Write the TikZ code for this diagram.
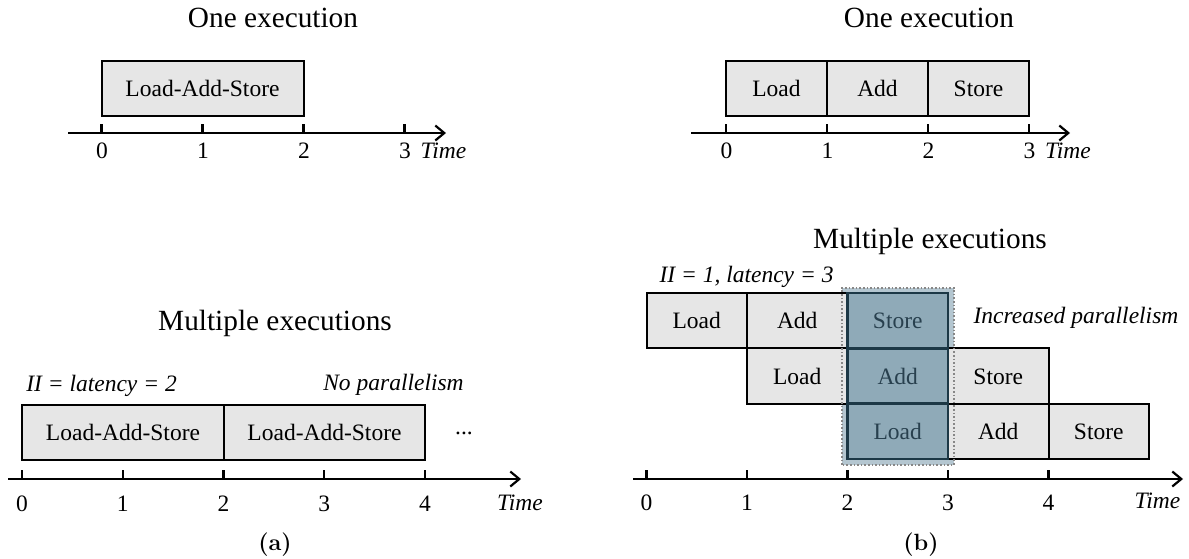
\documentclass[tikz,border=0pt]{standalone}
\usepackage{fontspec}
\newfontfamily\tms{Liberation Serif}
\usetikzlibrary{arrows.meta}
\definecolor{boxgray}{RGB}{230,230,230}
\definecolor{hlfill}{RGB}{143,170,184}
\definecolor{hlline}{RGB}{28,56,70}
\definecolor{hltext}{RGB}{40,64,78}
\definecolor{hlback}{RGB}{180,198,208}
\definecolor{dotgray}{RGB}{135,135,135}
\begin{document}
\begin{tikzpicture}[x=1pt,y=-1pt,
  every node/.style={inner sep=0pt, font=\tms\fontsize{23.5}{28}\selectfont},
  blk/.style={draw=black, line width=2pt, fill=boxgray, minimum height=55.4pt, anchor=center, text height=16pt, text depth=0pt},
  hlbox/.style={blk, draw=hlline, fill=hlfill, text=hltext, line width=2.6pt},
  ttl/.style={anchor=base, font=\tms\fontsize{29.3}{34}\selectfont},
  note/.style={anchor=base, font=\tms\itshape\fontsize{23.5}{28}\selectfont},
  num/.style={anchor=base},
  sublabel/.style={anchor=base, font=\bfseries\fontsize{23.5}{28}\selectfont},
  axisline/.style={line width=2.2pt, -{Straight Barb[length=9pt,width=15pt]}},
  tickline/.style={line width=2.2pt},
]
\useasboundingbox (0,0) rectangle (1189,558);

% ---------------- (a) top: one execution ----------------
\node[ttl] (tlTitle) at (273,27.3) {One execution};
\node[blk, minimum width=202pt] (tlLAS) at (202.5,88.5) {Load-Add-Store};
\coordinate (tlS) at (68,133);
\coordinate (tlE) at (446,133);
\draw[axisline] (tlS) -- (tlE);
\foreach \i in {0,1,2,3} {
  \coordinate (tlT\i) at ({101.5+101*\i},133);
  \draw[tickline] (tlT\i) -- ++(0,-9);
  \node[num] (tlN\i) at ({102+101*\i},158.3) {\i};
}
\node[note] (tlTime) at (443.5,158.3) {Time};

% ---------------- (b) top: one execution ----------------
\node[ttl] (trTitle) at (929,27.3) {One execution};
\node[blk, minimum width=101pt] (trL) at (776.5,88.5) {Load};
\node[blk, minimum width=101pt] (trA) at (877.5,88.5) {Add};
\node[blk, minimum width=101pt] (trS) at (978.5,88.5) {Store};
\coordinate (trS0) at (691,133);
\coordinate (trE0) at (1070,133);
\draw[axisline] (trS0) -- (trE0);
\foreach \i in {0,1,2,3} {
  \coordinate (trT\i) at ({726+101*\i},133);
  \draw[tickline] (trT\i) -- ++(0,-9);
  \node[num] (trN\i) at ({726.5+101*\i},158.3) {\i};
}
\node[note] (trTime) at (1068,158.3) {Time};

% ---------------- (a) bottom: multiple executions ----------------
\node[ttl] (blTitle) at (275,330.7) {Multiple executions};
\node[note] (blII) at (101.5,391) {II = latency = 2};
\node[note] (blNo) at (393.5,390) {No parallelism};
\node[blk, minimum width=202pt] (blLAS1) at (123,432.5) {Load-Add-Store};
\node[blk, minimum width=201pt] (blLAS2) at (324.5,432.5) {Load-Add-Store};
\node[anchor=base] (blDots) at (464,434) {...};
\coordinate (blS) at (8,479);
\coordinate (blE) at (521,479);
\draw[axisline] (blS) -- (blE);
\foreach \i in {0,1,2,3,4} {
  \coordinate (blT\i) at ({22+100.75*\i},479);
  \draw[tickline] (blT\i) -- ++(0,-9);
  \node[num] (blN\i) at ({22+100.75*\i},511.5) {\i};
}
\node[note] (blTime) at (520,510) {Time};
\node[sublabel] (capA) at (275,550) {(a)};

% ---------------- (b) bottom: multiple executions ----------------
\node[ttl] (brTitle) at (930,248) {Multiple executions};
\node[note] (brII) at (746.5,282.7) {II = 1, latency = 3};
\node[note] (brInc) at (1076,323.3) {Increased parallelism};

% highlight background
\node[draw=none, fill=hlback, minimum width=112pt, minimum height=176.5pt] (hlBg) at (898,376.25) {};

% row 1
\node[blk, minimum width=100.5pt] (r1L) at (696.75,320.6) {Load};
\node[blk, minimum width=100.5pt] (r1A) at (797.25,320.6) {Add};
% row 2
\node[blk, minimum width=100.5pt] (r2L) at (797.25,376) {Load};
\node[blk, minimum width=100.5pt] (r2S) at (998.25,376) {Store};
% row 3
\node[blk, minimum width=100.5pt] (r3A) at (998.25,431.4) {Add};
\node[blk, minimum width=100.5pt] (r3S) at (1098.75,431.4) {Store};

% dotted highlight border
\draw[dotgray, line width=1.6pt, dotted] (hlBg.south west) rectangle (hlBg.north east);

% highlighted column
\node[hlbox, minimum width=100.5pt] (r1S) at (897.75,320.6) {Store};
\node[hlbox, minimum width=100.5pt] (r2A) at (897.75,376) {Add};
\node[hlbox, minimum width=100.5pt] (r3L) at (897.75,431.4) {Load};

\coordinate (brS) at (633,479);
\coordinate (brE) at (1183,479);
\draw[axisline] (brS) -- (brE);
\foreach \i in {0,1,2,3,4} {
  \coordinate (brT\i) at ({646.5+100.5*\i},479);
  \draw[tickline] (brT\i) -- ++(0,-9);
  \node[num] (brN\i) at ({646.5+100.5*\i},510) {\i};
}
\node[note] (brTime) at (1157.5,508.5) {Time};
\node[sublabel] (capB) at (921,550) {(b)};
\end{tikzpicture}
\end{document}
